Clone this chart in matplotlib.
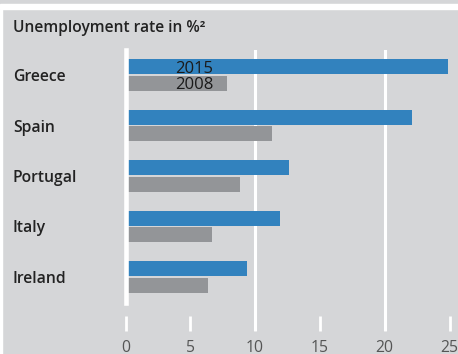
import matplotlib
matplotlib.use("Agg")
import matplotlib.pyplot as plt
import matplotlib.transforms as mtransforms
from matplotlib.patches import Rectangle
import numpy as np

countries = ["Greece", "Spain", "Portugal", "Italy", "Ireland"]
rate_2015 = [24.9, 22.1, 12.6, 11.9, 9.4]
rate_2008 = [7.8, 11.3, 8.8, 6.7, 6.4]
years = ["2015", "2008"]
xticks = [0, 5, 10, 15, 20, 25]

BG = "#d5d6d8"
BLUE = "#3282be"
GREY = "#939598"
plt.rcParams["font.family"] = ["Open Sans", "DejaVu Sans"]

fig = plt.figure(figsize=(4.58, 3.54), dpi=100, facecolor=BG)
# white rules framing the panel (top stripe and left edge)
fig.patches.append(Rectangle((0, 1 - 9 / 354), 1, 5 / 354, transform=fig.transFigure,
                             color="white", zorder=0))
fig.patches.append(Rectangle((0, 0), 2 / 458, 1 - 9 / 354, transform=fig.transFigure,
                             color="white", zorder=0))

ax = fig.add_axes([125.5 / 458, 23 / 354, 324 / 458, 281 / 354])
ax.set_facecolor(BG)
for s in ax.spines.values():
    s.set_visible(False)

y = np.arange(len(countries))
h = 15 / 50.5
off = 8.3 / 50.5
ax.barh(y - off, rate_2015, height=h, color=BLUE, zorder=2)
ax.barh(y + off, rate_2008, height=h, color=GREY, zorder=2)

ax.set_xlim(0, 25)
ax.set_ylim((331 - 75) / 50.5, (50 - 75) / 50.5)

# grid at 10 and 20, full height
for g in (10, 20):
    ax.axvline(g, color="white", lw=2.2, zorder=1)
# baseline at 0 stops above the tick row
ax.axvline(0, ymin=28 / 281, ymax=1, color="white", lw=3.3, zorder=3, clip_on=False)

ax.set_xticks(xticks)
ax.set_xticklabels([str(t) for t in xticks])
ax.tick_params(axis="x", direction="in", length=10.8, width=2, color="white",
               pad=6.3, labelsize=11.3, labelcolor="#555555")
ax.set_yticks([])
for t in ax.xaxis.get_major_ticks():
    t.tick1line.set_clip_on(False)

# year labels inside the Greece bars
base = 6 / 50.5
ax.text(5.3, 0 - off + base, years[0], ha="center", va="baseline", fontsize=12,
        color="#1a1a1a", zorder=4)
ax.text(5.3, 0 + off + base, years[1], ha="center", va="baseline", fontsize=12,
        color="#1a1a1a", zorder=4)

# country names at left of the panel
trans = mtransforms.blended_transform_factory(fig.transFigure, ax.transData)
for i, c in enumerate(countries):
    ax.text(13 / 458, i + base, c, transform=trans, ha="left", va="baseline",
            fontsize=11.3, fontweight="semibold", color="#222222")

fig.text(13 / 458, 1 - 31.5 / 354, "Unemployment rate in %²", ha="left", va="baseline",
         fontsize=11.2, fontweight="semibold", color="#222222")

fig.savefig("out.png", dpi=100, facecolor=BG)
